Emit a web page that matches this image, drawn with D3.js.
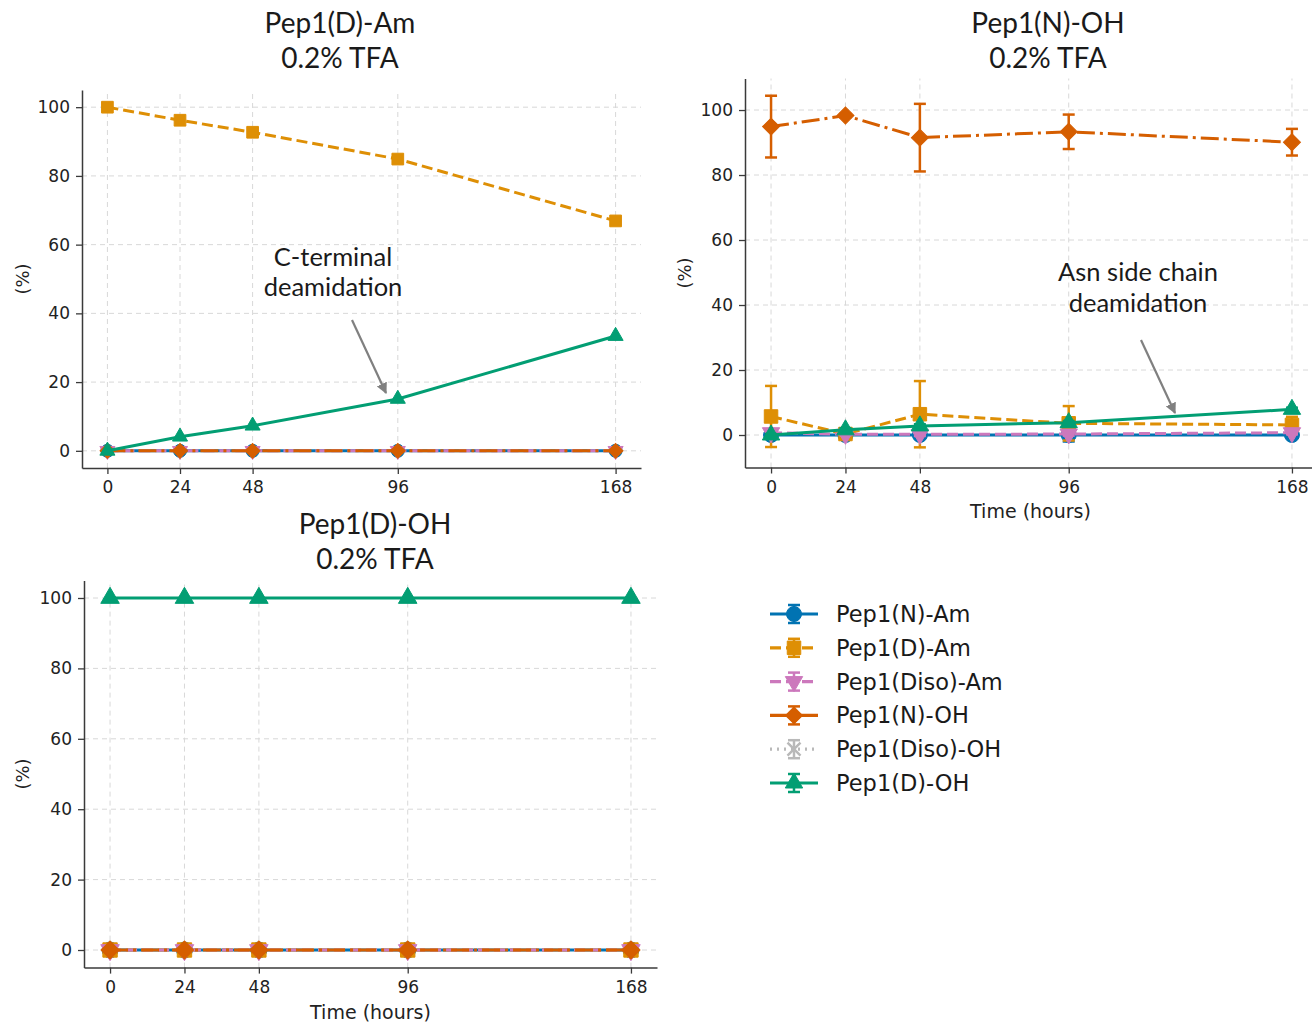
<!DOCTYPE html>
<html><head><meta charset="utf-8">
<script src="https://cdn.jsdelivr.net/npm/d3@7"></script>
<style>body{margin:0;background:#fff}svg{display:block}</style>
</head><body>
<svg id="c" width="1312" height="1022"></svg>
<script>
// ---------------- data ----------------
const hours = [0, 24, 48, 96, 168];
const xTickValues = [0, 24, 48, 96, 168];
const yTickValues = [0, 20, 40, 60, 80, 100];
const seriesNames = ["Pep1(N)-Am", "Pep1(D)-Am", "Pep1(Diso)-Am", "Pep1(N)-OH", "Pep1(Diso)-OH", "Pep1(D)-OH"];

// Panel A: Pep1(D)-Am, 0.2% TFA (series order as seriesNames); null = not shown
const panelA_NAm    = [0, 0, 0, 0, 0];
const panelA_DAm    = [100, 96.2, 92.7, 84.9, 66.9];
const panelA_DisoAm = [0, 0, 0, 0, 0];
const panelA_NOH    = [0, 0, 0, 0, 0];
const panelA_DisoOH = [null, null, null, null, null];
const panelA_DOH    = [0, 4.1, 7.3, 15.1, 33.4];

// Panel B: Pep1(N)-OH, 0.2% TFA
const panelB_NAm    = [0, 0, 0, 0, 0];
const panelB_DAm    = [5.7, 0.3, 6.4, 3.6, 3.1];
const panelB_DisoAm = [0.7, 0.2, 0.2, 0.3, 0.7];
const panelB_NOH    = [94.9, 98.3, 91.5, 93.3, 90.1];
const panelB_DisoOH = [null, null, null, null, null];
const panelB_DOH    = [0, 1.6, 2.8, 3.8, 7.9];
// error bars (std) panel B
const panelB_NAm_err    = [1.0, 0.5, 1.0, 2.0, 0.5];
const panelB_DAm_err    = [9.4, 0.5, 10.2, 5.3, 2.5];
const panelB_DisoAm_err = [0.5, 0.3, 0.5, 0.5, 0.5];
const panelB_NOH_err    = [9.5, 0.5, 10.4, 5.3, 4.1];
const panelB_DisoOH_err = [0, 0, 0, 0, 0];
const panelB_DOH_err    = [0.3, 0.5, 0.5, 0.5, 0.5];

// Panel C: Pep1(D)-OH, 0.2% TFA
const panelC_NAm    = [0, 0, 0, 0, 0];
const panelC_DAm    = [0, 0, 0, 0, 0];
const panelC_DisoAm = [0, 0, 0, 0, 0];
const panelC_NOH    = [0, 0, 0, 0, 0];
const panelC_DisoOH = [null, null, null, null, null];
const panelC_DOH    = [100, 100, 100, 100, 100];

const zeroErr = [0, 0, 0, 0, 0];

// ---------------- styles ----------------
const colors = ["#0173b2", "#de8f05", "#cc78bc", "#d55e00", "#b9b9b9", "#029e73"];
const dashes = [null, "11,5", "11,5", "18,5,3,5", "2,5", null];
const markers = ["circle", "square", "tridown", "diamond", "x", "triup"];

function symbolPath(kind, s) {
  if (kind === "circle") return d3.symbol(d3.symbolCircle, Math.PI * (s / 2) * (s / 2))();
  if (kind === "square") return d3.symbol(d3.symbolSquare, (s * 0.9) * (s * 0.9))();
  if (kind === "diamond") return d3.symbol(d3.symbolSquare, (s * 0.8) * (s * 0.8))();
  if (kind === "triup" || kind === "tridown") return d3.symbol(d3.symbolTriangle, s * s * 0.58)();
  if (kind === "x") return d3.symbol(d3.symbolX, s * s * 0.5)();
}
function drawMarker(g, kind, color, cx, cy, s) {
  const p = g.append("path").attr("d", symbolPath(kind, s));
  let rot = 0;
  if (kind === "diamond") rot = 45;
  if (kind === "tridown") rot = 180;
  p.attr("transform", `translate(${cx},${cy}) rotate(${rot})`);
  if (kind === "x") p.attr("fill", "none").attr("stroke", color).attr("stroke-width", 2.5);
  else p.attr("fill", color).attr("stroke", color).attr("stroke-width", 1);
}

const svg = d3.select("#c");
const tickFont = "'DejaVu Sans', sans-serif";
const textFont = "Lato, 'Open Sans', sans-serif";

const panels = [
  { title: ["Pep1(D)-Am", "0.2% TFA"], titleX: 340, titleY: [33, 68],
    vals: [panelA_NAm, panelA_DAm, panelA_DisoAm, panelA_NOH, panelA_DisoOH, panelA_DOH],
    errs: [zeroErr, zeroErr, zeroErr, zeroErr, zeroErr, zeroErr],
    xr: [82, 641], yr: [468, 90], xd: [-8.4, 176.4], yd: [-5, 105],
    ylabX: 22, xlabel: null, ms: 13,
    note: { lines: ["C-terminal", "deamidation"], x: 333, y: [266, 296], from: [352, 320], to: [386, 393] } },
  { title: ["Pep1(N)-OH", "0.2% TFA"], titleX: 1048, titleY: [33, 68],
    vals: [panelB_NAm, panelB_DAm, panelB_DisoAm, panelB_NOH, panelB_DisoOH, panelB_DOH],
    errs: [panelB_NAm_err, panelB_DAm_err, panelB_DisoAm_err, panelB_NOH_err, panelB_DisoOH_err, panelB_DOH_err],
    xr: [745, 1318], yr: [467.5, 78.5], xd: [-8.4, 176.4], yd: [-10, 109.7],
    ylabX: 684, xlabel: "Time (hours)", xlabY: 518, ms: 15,
    note: { lines: ["Asn side chain", "deamidation"], x: 1138, y: [281, 312], from: [1141, 340], to: [1175, 413] } },
  { title: ["Pep1(D)-OH", "0.2% TFA"], titleX: 375, titleY: [534, 569],
    vals: [panelC_NAm, panelC_DAm, panelC_DisoAm, panelC_NOH, panelC_DisoOH, panelC_DOH],
    errs: [zeroErr, zeroErr, zeroErr, zeroErr, zeroErr, zeroErr],
    xr: [84, 657], yr: [967.6, 580.4], xd: [-8.4, 176.4], yd: [-5, 105],
    ylabX: 22, xlabel: "Time (hours)", xlabY: 1019, ms: 16, note: null }
];

svg.append("defs").append("marker").attr("id", "ah").attr("viewBox", "0 0 10 10")
  .attr("refX", 9).attr("refY", 5).attr("markerWidth", 5).attr("markerHeight", 5)
  .attr("markerUnits", "strokeWidth").attr("orient", "auto")
  .append("path").attr("d", "M0,0 L10,5 L0,10 z").attr("fill", "#808080");

panels.forEach((P, pi) => {
  const x = d3.scaleLinear().domain(P.xd).range(P.xr);
  const y = d3.scaleLinear().domain(P.yd).range(P.yr);
  const g = svg.append("g");

  g.selectAll(".gx").data(xTickValues).join("line")
    .attr("x1", d => x(d)).attr("x2", d => x(d)).attr("y1", P.yr[0]).attr("y2", P.yr[1])
    .attr("stroke", "#d8d8d8").attr("stroke-width", 1).attr("stroke-dasharray", "5,4");
  g.selectAll(".gy").data(yTickValues).join("line")
    .attr("x1", P.xr[0]).attr("x2", P.xr[1]).attr("y1", d => y(d)).attr("y2", d => y(d))
    .attr("stroke", "#d8d8d8").attr("stroke-width", 1).attr("stroke-dasharray", "5,4");

  const xa = g.append("g").attr("transform", `translate(0,${P.yr[0]})`)
    .call(d3.axisBottom(x).tickValues(xTickValues).tickSize(6).tickPadding(7).tickSizeOuter(0));
  const ya = g.append("g").attr("transform", `translate(${P.xr[0]},0)`)
    .call(d3.axisLeft(y).tickValues(yTickValues).tickSize(6).tickPadding(6).tickSizeOuter(0));
  [xa, ya].forEach(a => {
    a.attr("font-family", tickFont).attr("font-size", 17);
    a.select(".domain").attr("stroke", "#3a3a3a").attr("stroke-width", 1.5);
    a.selectAll(".tick line").attr("stroke", "#3a3a3a").attr("stroke-width", 1.3);
    a.selectAll(".tick text").attr("fill", "#222");
  });

  g.append("text").attr("transform", `translate(${P.ylabX},${(P.yr[0] + P.yr[1]) / 2}) rotate(-90)`)
    .attr("text-anchor", "middle").attr("dominant-baseline", "central")
    .attr("font-family", tickFont).attr("font-size", 18).attr("fill", "#222").text("(%)");
  if (P.xlabel) {
    g.append("text").attr("x", (P.xr[0] + Math.min(P.xr[1], 1312)) / 2 + (pi === 1 ? 2 : 0)).attr("y", P.xlabY)
      .attr("text-anchor", "middle").attr("font-family", tickFont).attr("font-size", 19).attr("fill", "#222")
      .text(P.xlabel);
  }

  P.title.forEach((t, i) => {
    svg.append("text").attr("x", P.titleX).attr("y", P.titleY[i]).attr("text-anchor", "middle")
      .attr("font-family", textFont).attr("font-size", 28).attr("fill", "#1a1a1a").text(t);
  });

  const line = d3.line().defined(d => d !== null).x((d, i) => x(hours[i])).y(d => y(d));
  P.vals.forEach((vals, si) => {
    const col = colors[si];
    const errs = P.errs[si];
    const eg = g.append("g");
    vals.forEach((v, i) => {
      const e = errs[i];
      if (v !== null && e > 0) {
        const cx = x(hours[i]);
        eg.append("line").attr("x1", cx).attr("x2", cx).attr("y1", y(v - e)).attr("y2", y(v + e))
          .attr("stroke", col).attr("stroke-width", 2.5);
        [v - e, v + e].forEach(yy => eg.append("line").attr("x1", cx - 6).attr("x2", cx + 6)
          .attr("y1", y(yy)).attr("y2", y(yy)).attr("stroke", col).attr("stroke-width", 2.5));
      }
    });
    g.append("path").attr("d", line(vals)).attr("fill", "none").attr("stroke", col)
      .attr("stroke-width", 3).attr("stroke-dasharray", dashes[si]);
    vals.forEach((v, i) => { if (v !== null) drawMarker(g, markers[si], col, x(hours[i]), y(v), P.ms); });
  });

  if (P.note) {
    P.note.lines.forEach((t, i) => {
      svg.append("text").attr("x", P.note.x).attr("y", P.note.y[i]).attr("text-anchor", "middle")
        .attr("font-family", textFont).attr("font-size", 25.5).attr("fill", "#1a1a1a").text(t);
    });
    svg.append("line").attr("x1", P.note.from[0]).attr("y1", P.note.from[1])
      .attr("x2", P.note.to[0]).attr("y2", P.note.to[1])
      .attr("stroke", "#808080").attr("stroke-width", 2.2).attr("marker-end", "url(#ah)");
  }
});

const leg = svg.append("g");
seriesNames.forEach((name, i) => {
  const cy = 614 + i * 33.8;
  const col = colors[i];
  leg.append("line").attr("x1", 770).attr("x2", 818).attr("y1", cy).attr("y2", cy)
    .attr("stroke", col).attr("stroke-width", 3.2).attr("stroke-dasharray", dashes[i]);
  leg.append("line").attr("x1", 794).attr("x2", 794).attr("y1", cy - 9).attr("y2", cy + 9)
    .attr("stroke", col).attr("stroke-width", 2.5);
  [cy - 9, cy + 9].forEach(yy => leg.append("line").attr("x1", 788).attr("x2", 800)
    .attr("y1", yy).attr("y2", yy).attr("stroke", col).attr("stroke-width", 2.5));
  drawMarker(leg, markers[i], col, 794, cy, 15);
  leg.append("text").attr("x", 836).attr("y", cy).attr("dominant-baseline", "central")
    .attr("font-family", tickFont).attr("font-size", 22.5).attr("fill", "#1a1a1a").text(name);
});
</script>
</body></html>
